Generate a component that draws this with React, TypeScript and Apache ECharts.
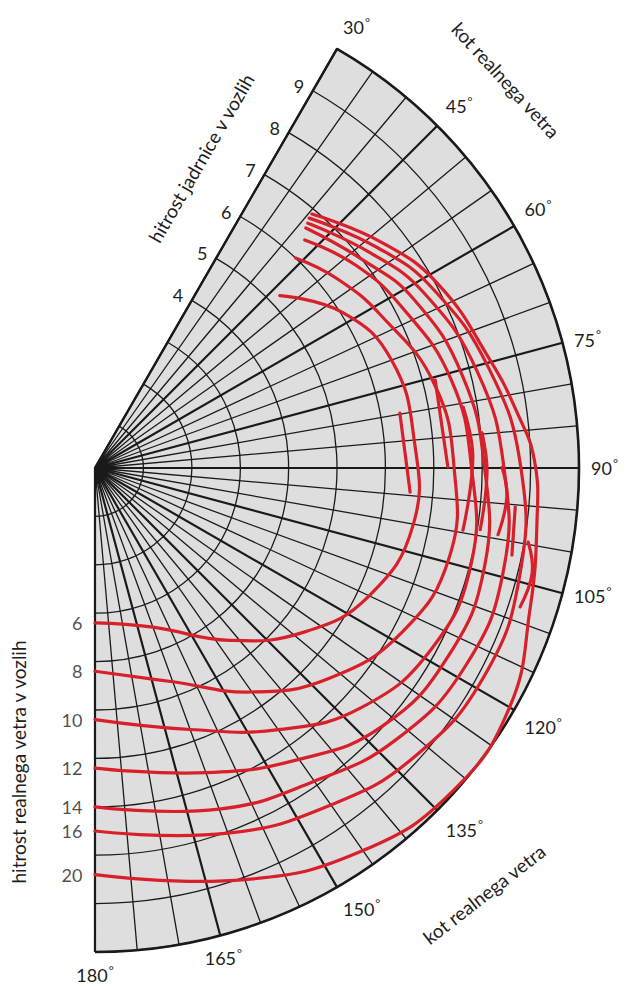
import React, { useEffect, useRef } from 'react';
import * as echarts from 'echarts';

// angle ticks (degrees of true wind angle)
const angleTicks = [30, 45, 60, 75, 90, 105, 120, 135, 150, 165, 180];
// boat speed ring labels (knots)
const ringLabels = [4, 5, 6, 7, 8, 9];
// true wind speeds (knots)
const windSpeeds = ['6', '8', '10', '12', '14', '16', '20'];

// each curve: [true wind angle, boat speed]
const curve6 = [[180, 3.2], [160, 3.5], [142, 4.52], [128, 5.5], [115, 6.25], [100, 6.68], [85, 6.62], [70, 6.52], [58, 6.05], [47, 5.22]];
const curve8 = [[180, 4.2], [160, 4.7], [145, 5.65], [132, 6.5], [118, 7.2], [104, 7.55], [90, 7.42], [76, 7.22], [62, 6.7], [52, 6.35], [43.7, 6.0]];
const curve10 = [[180, 5.2], [160, 5.75], [145, 6.6], [132, 7.4], [118, 7.9], [104, 8.02], [90, 7.78], [76, 7.58], [62, 7.15], [52, 6.82], [42.6, 6.4]];
const curve12 = [[180, 6.2], [160, 6.7], [145, 7.35], [132, 7.98], [118, 8.27], [104, 8.3], [90, 8.05], [76, 7.83], [62, 7.45], [52, 7.0], [41.3, 6.6]];
const curve14 = [[180, 7.0], [160, 7.5], [145, 7.9], [132, 8.38], [118, 8.68], [104, 8.7], [90, 8.45], [76, 8.15], [62, 7.7], [52, 7.22], [41, 6.7]];
const curve16 = [[180, 7.5], [160, 8.03], [145, 8.5], [132, 8.9], [118, 9.12], [104, 9.05], [90, 8.8], [76, 8.4], [62, 7.9], [52, 7.4], [40.6, 6.8]];
const curve20 = [[180, 8.4], [160, 9.05], [145, 9.65], [132, 9.96], [120, 9.89], [108, 9.45], [97, 9.2], [89, 9.08], [82.6, 8.8], [74.7, 8.46], [62, 8.05], [52, 7.55], [40.5, 6.9]];
const curves = [curve6, curve8, curve10, curve12, curve14, curve16, curve20];

// short crossing strokes near the beam reach
const stroke1 = [[79.8, 6.4], [94.4, 6.53]];
const stroke2 = [[75.5, 7.26], [89.8, 7.29]];
const stroke3 = [[80.6, 7.71], [88.3, 7.81], [99.6, 7.71]];
const stroke4 = [[84.8, 8.03], [90.7, 8.1], [99.1, 8.06]];
const stroke5 = [[89.9, 8.41], [94.0, 8.53], [99.4, 8.44]];
const stroke6 = [[95.3, 8.72], [101.8, 8.8]];
const stroke7 = [[99.7, 9.08], [103.5, 9.29], [108.1, 9.24]];
const strokes = [stroke1, stroke2, stroke3, stroke4, stroke5, stroke6, stroke7];

const RED = '#d7202a';
const INK = '#1a1a1a';
const FONT = 'Lato, "Open Sans", sans-serif';
const CX = 95;
const CY = 468;
const R = 484;
const A_MIN = 30;
const A_MAX = 180;

export default function App() {
  const ref = useRef<HTMLDivElement>(null);
  useEffect(() => {
    if (!ref.current) return;
    const chart = echarts.init(ref.current, undefined, { renderer: 'svg' });
    const toPolar = (pts: number[][]) => pts.map(([a, s]) => [s, a]);
    const smoothSeries = (pts: number[][], name: string | undefined, smooth: number) => {
      const data = toPolar(pts);
      return {
        type: 'custom', coordinateSystem: 'polar', name,
        data, z: 5, silent: true, clip: false,
        renderItem: (params: any, api: any) => {
          if (params.dataIndex !== 0) return null;
          const points = data.map((d) => api.coord(d));
          return {
            type: 'polyline',
            shape: { points, smooth },
            style: { stroke: RED, lineWidth: 3.2, fill: null, lineCap: 'round', lineJoin: 'round' },
          };
        },
      };
    };
    const series: any[] = [];
    curves.forEach((c, i) => series.push(smoothSeries(c, windSpeeds[i], 0.45)));
    strokes.forEach((c) => series.push(smoothSeries(c, undefined, 0.4)));
    series.push({
      type: 'scatter', coordinateSystem: 'polar', symbolSize: 1,
      itemStyle: { color: 'rgba(0,0,0,0)' },
      data: curves.map((c, i) => ({ value: [c[0][1], c[0][0]], name: windSpeeds[i] })),
      label: { show: true, position: 'left', distance: 12, formatter: '{b}', fontSize: 18, color: '#1e1e1e', fontFamily: FONT },
      z: 6,
    });
    const startAngle = 90 - A_MIN;
    const endAngle = 90 - A_MAX;
    const option: any = {
      animation: false,
      backgroundColor: '#ffffff',
      polar: { center: [CX, CY], radius: [0, R] },
      angleAxis: {
        type: 'value', min: A_MIN, max: A_MAX, interval: 15,
        startAngle, endAngle, clockwise: true,
        axisLine: { show: true, lineStyle: { color: INK, width: 2.6 } },
        axisTick: { show: false },
        axisLabel: {
          show: true, margin: 12, fontSize: 18, color: '#1e1e1e', fontFamily: FONT,
          formatter: (v: number) => angleTicks.includes(v) ? `${v}{d|°}` : '',
          rich: { d: { fontSize: 12, color: '#1e1e1e', verticalAlign: 'top', padding: [0, 0, 10, 1] } },
        },
        splitLine: { show: true, lineStyle: { color: INK, width: 2.2 } },
        minorTick: { show: false, splitNumber: 3 },
        minorSplitLine: { show: true, lineStyle: { color: INK, width: 1.3 } },
        splitArea: { show: false },
      },
      radiusAxis: {
        type: 'value', min: 0, max: 10, interval: 1,
        axisLine: { show: true, lineStyle: { color: INK, width: 2.2 } },
        axisTick: { show: false },
        axisLabel: {
          show: true, fontSize: 18, color: '#1e1e1e', fontFamily: FONT, margin: 10,
          formatter: (v: number) => ringLabels.includes(v) ? String(v) : '',
        },
        splitLine: { show: true, lineStyle: { color: INK, width: 1.3 } },
        splitArea: { show: false },
      },
      graphic: [
        {
          type: 'sector', z: -10, silent: true,
          shape: { cx: CX, cy: CY, r0: 0, r: R, startAngle: -startAngle * Math.PI / 180, endAngle: -endAngle * Math.PI / 180, clockwise: true },
          style: { fill: '#dedede' },
        },
        { type: 'text', x: 201, y: 158, rotation: Math.PI / 3, style: { text: 'hitrost jadrnice v vozlih', fontSize: 19, fill: '#1e1e1e', fontFamily: FONT, align: 'center', verticalAlign: 'middle' } },
        { type: 'text', x: 506, y: 80, rotation: -0.83, style: { text: 'kot realnega vetra', fontSize: 19, fill: '#1e1e1e', fontFamily: FONT, align: 'center', verticalAlign: 'middle' } },
        { type: 'text', x: 18, y: 762, rotation: Math.PI / 2, style: { text: 'hitrost realnega vetra v vozlih', fontSize: 19, fill: '#1e1e1e', fontFamily: FONT, align: 'center', verticalAlign: 'middle' } },
        { type: 'text', x: 484, y: 894, rotation: 0.66, style: { text: 'kot realnega vetra', fontSize: 19, fill: '#1e1e1e', fontFamily: FONT, align: 'center', verticalAlign: 'middle' } },
      ],
      series,
    };
    chart.setOption(option);
    return () => chart.dispose();
  }, []);
  return <div ref={ref} style={{ position: 'fixed', left: 0, top: 0, width: 626, height: 990 }} />;
}
